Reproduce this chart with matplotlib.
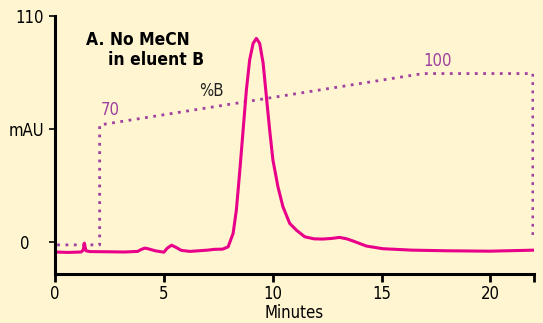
import matplotlib.pyplot as plt

# ---------- datos ----------
# cromatograma (minutos, mAU)
minutos = [0, 0.6, 1.2, 1.3, 1.35, 1.42, 1.6, 2.5, 3.2, 3.8, 3.95, 4.13, 4.3, 4.6, 5.0, 5.15, 5.35, 5.55, 5.8, 6.2,
           7.0, 7.34, 7.7, 7.95, 8.18, 8.33, 8.49, 8.64, 8.79, 8.94, 9.1, 9.25, 9.4, 9.56, 9.71, 9.86,
           10.01, 10.24, 10.47, 10.78, 11.09, 11.47, 11.9, 12.3, 12.7, 13.07, 13.4, 13.7, 14.3, 15.06,
           16.4, 17.97, 19.95, 22.0]
mau = [-4.8, -5.0, -4.8, -3.8, -0.5, -4.2, -4.6, -4.7, -4.8, -4.5, -3.6, -2.9, -3.3, -4.2, -4.9, -3.0, -1.5, -2.5, -4.0, -4.5,
       -3.9, -3.5, -3.4, -2.3, 4.2, 15.6, 35.0, 54.5, 74.0, 88.6, 96.7, 99.1, 96.7, 87.0, 70.7, 54.5,
       39.9, 26.9, 17.2, 9.1, 5.8, 2.6, 1.6, 1.5, 1.8, 2.3, 1.6, 0.5, -1.9, -3.2,
       -3.9, -4.2, -4.4, -3.9]

# gradiente %B
t_grad = [0.1, 2.05, 2.05, 16.9, 21.95, 21.95]
pct_b = [0, 0, 70, 100, 100, 3]

fondo = '#FFF5D0'
rosa = '#E8008A'
morado = '#A040A0'
plt.rcParams['font.family'] = ['DejaVu Sans']
plt.rcParams['font.stretch'] = 'condensed'

fig = plt.figure(figsize=(5.43, 3.23), dpi=100, facecolor=fondo)
ax = fig.add_axes([0.1013, 0.1517, 0.8821, 0.7988])
ax.set_facecolor(fondo)

# eje secundario para %B  (70% -> 57 mAU, 100% -> 82 mAU)
a, b = -1.33, 0.8333
ylo, yhi = -15.5, 110
ax2 = ax.twinx()
ax2.set_ylim((ylo - a) / b, (yhi - a) / b)
ax2.plot(t_grad, pct_b, color=morado, lw=2, linestyle=(0, (1, 2)))
ax2.axis('off')

ax.plot(minutos, mau, color=rosa, lw=2.2)
ax.set_zorder(ax2.get_zorder() + 1)
ax.patch.set_visible(False)

ax.set_xlim(0, 22)
ax.set_ylim(ylo, yhi)
ax.set_xticks([0, 5, 10, 15, 20, 22])
ax.set_xticklabels(['0', '5', '10', '15', '20', ''])
ax.set_yticks([0, 55, 110])
ax.set_yticklabels(['0   ', 'mAU', '110'])
ax.tick_params(axis='x', length=6, width=2, labelsize=12, pad=2)
ax.tick_params(axis='y', length=4, width=1.2, labelsize=12, pad=4)
for s in ['top', 'right']:
    ax.spines[s].set_visible(False)
for s in ['left', 'bottom']:
    ax.spines[s].set_linewidth(2.2)
ax.set_xlabel('Minutes', fontsize=12)
ax.xaxis.set_label_coords(0.5, -0.118)

ax.text(1.42, 95.9, 'A. No MeCN', fontsize=12.5, fontweight='bold', va='baseline')
ax.text(2.43, 86.1, 'in eluent B', fontsize=12.5, fontweight='bold', va='baseline')
ax.text(2.1, 62, '70', color=morado, fontsize=12)
ax.text(16.9, 85.5, '100', color=morado, fontsize=12)
ax.text(6.6, 71, '%B', color='#222222', fontsize=12)

plt.savefig('out.png', dpi=100, facecolor=fondo)
